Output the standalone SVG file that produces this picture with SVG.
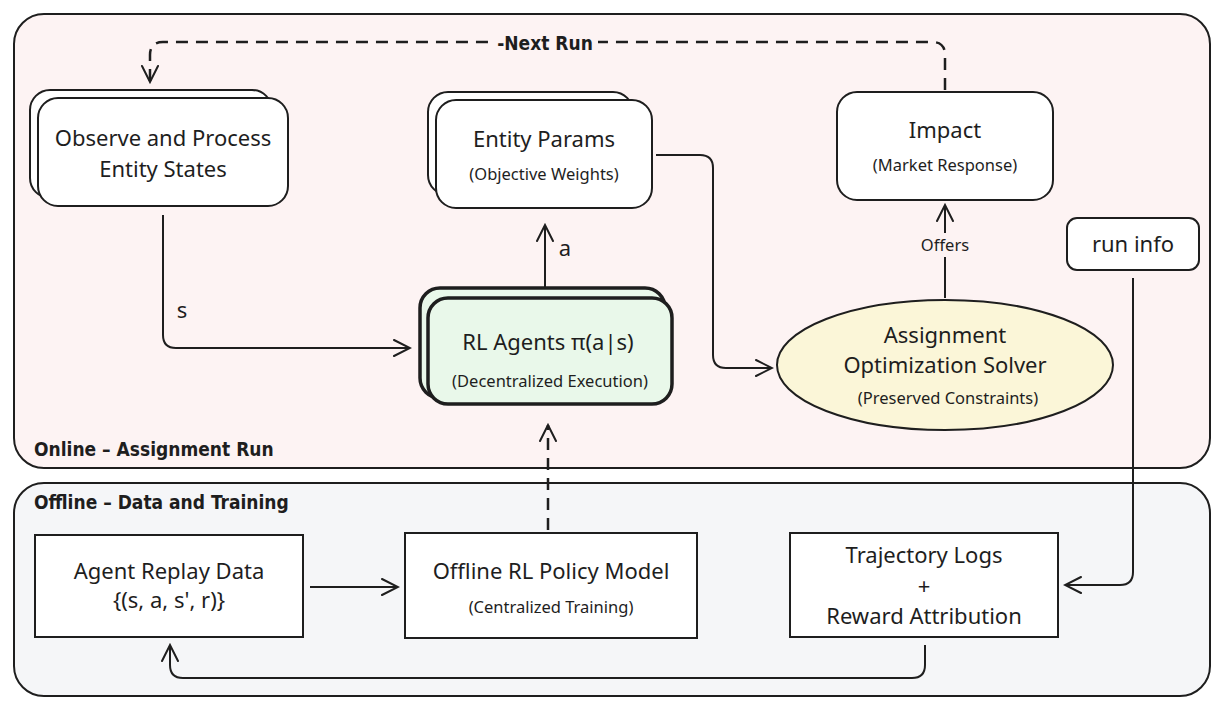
<svg xmlns="http://www.w3.org/2000/svg" width="1224" height="712" viewBox="0 0 1224 712">
<defs>
<marker id="ar" viewBox="0 0 20 20" refX="18" refY="10" markerWidth="20" markerHeight="20" markerUnits="userSpaceOnUse" orient="auto"><path d="M2,2 L18,10 L2,18" fill="none" stroke="#1e1e1e" stroke-width="2" stroke-linecap="round"/></marker>
</defs>
<style>
text{font-family:"Noto Sans","Open Sans",sans-serif;fill:#1e1e1e;text-anchor:middle}
.b{fill:#fff;stroke:#1e1e1e;stroke-width:2}
.t{font-size:22px}
.s{font-size:16.5px}
.h{font-family:"DejaVu Sans Condensed","DejaVu Sans",sans-serif;font-weight:bold;font-size:19px;text-anchor:start}
.c{fill:none;stroke:#1e1e1e;stroke-width:2;marker-end:url(#ar)}
.d{stroke-width:2.5;stroke-dasharray:12 8}
</style>
<g id="online"><rect x="14" y="14" width="1196" height="454" rx="30" fill="#fdf3f3" stroke="#1e1e1e" stroke-width="2"/><text class="h" x="34" y="456">Online – Assignment Run</text></g>
<g id="offline"><rect x="14" y="483" width="1196" height="213" rx="30" fill="#f5f6f8" stroke="#1e1e1e" stroke-width="2"/><text class="h" x="34" y="509">Offline – Data and Training</text></g>
<g id="connectors">
<path class="c d" d="M945,90 V55 Q945,42 932,42 H163 Q150,42 150,55 V82"/>
<rect x="492" y="30" width="106" height="24" fill="#fdf3f3"/>
<text class="h" x="545" y="50" style="text-anchor:middle">-Next Run</text>
<path class="c" d="M163,215 V335 Q163,348 176,348 H410"/>
<text class="t" x="182" y="318">s</text>
<path class="c" d="M545,287 V225"/>
<text class="t" x="565" y="256">a</text>
<path class="c" d="M656,155 H700 Q713,155 713,168 V355 Q713,368 726,368 H772"/>
<path class="c" d="M945,298 V205"/>
<rect x="912" y="233" width="66" height="24" fill="#fdf3f3"/>
<text class="s" x="945" y="251">Offers</text>
<path class="c" d="M1133,278 V572 Q1133,585 1120,585 H1065"/>
<path class="c" d="M925,645 V665 Q925,678 912,678 H183 Q170,678 170,665 V645"/>
<path class="c" d="M310,587 H398"/>
<path class="c d" d="M548,530 V425"/>
</g>
<g id="observe"><rect class="b" x="30" y="90" width="242" height="108" rx="20"/><rect class="b" x="38" y="98" width="250" height="108" rx="20"/><text class="t" x="163" y="146">Observe and Process</text><text class="t" x="163" y="177">Entity States</text></g>
<g id="params"><rect class="b" x="428" y="92" width="205" height="103" rx="20"/><rect class="b" x="436" y="100" width="216" height="108" rx="20"/><text class="t" x="544" y="147">Entity Params</text><text class="s" x="544" y="180">(Objective Weights)</text></g>
<g id="impact"><rect class="b" x="837" y="92" width="216" height="108" rx="20"/><text class="t" x="945" y="138">Impact</text><text class="s" x="945" y="171">(Market Response)</text></g>
<g id="runinfo"><rect class="b" x="1067" y="218" width="132" height="52" rx="10"/><text class="t" x="1133" y="252">run info</text></g>
<g id="agents"><rect x="420" y="288" width="245" height="110" rx="20" fill="#e9f8ea" stroke="#1e1e1e" stroke-width="3.5"/><rect x="428" y="298" width="244" height="106" rx="20" fill="#e9f8ea" stroke="#1e1e1e" stroke-width="3.5"/><text class="t" x="548" y="350">RL Agents π(a|s)</text><text class="s" x="550" y="387">(Decentralized Execution)</text></g>
<g id="solver"><ellipse cx="945" cy="365" rx="168" ry="65" fill="#fbf6d8" stroke="#1e1e1e" stroke-width="2"/><text class="t" x="945" y="343">Assignment</text><text class="t" x="945" y="373">Optimization Solver</text><text class="s" x="948" y="404">(Preserved Constraints)</text></g>
<g id="replay"><rect class="b" x="35" y="535" width="268" height="102"/><text class="t" x="169" y="579">Agent Replay Data</text><text class="t" x="169" y="608">{(s, a, s', r)}</text></g>
<g id="policy"><rect class="b" x="405" y="533" width="292" height="105"/><text class="t" x="551" y="579">Offline RL Policy Model</text><text class="s" x="551" y="613">(Centralized Training)</text></g>
<g id="traj"><rect class="b" x="790" y="533" width="268" height="104"/><text class="t" x="924" y="563">Trajectory Logs</text><text class="t" x="924" y="594">+</text><text class="t" x="924" y="624">Reward Attribution</text></g>
</svg>
